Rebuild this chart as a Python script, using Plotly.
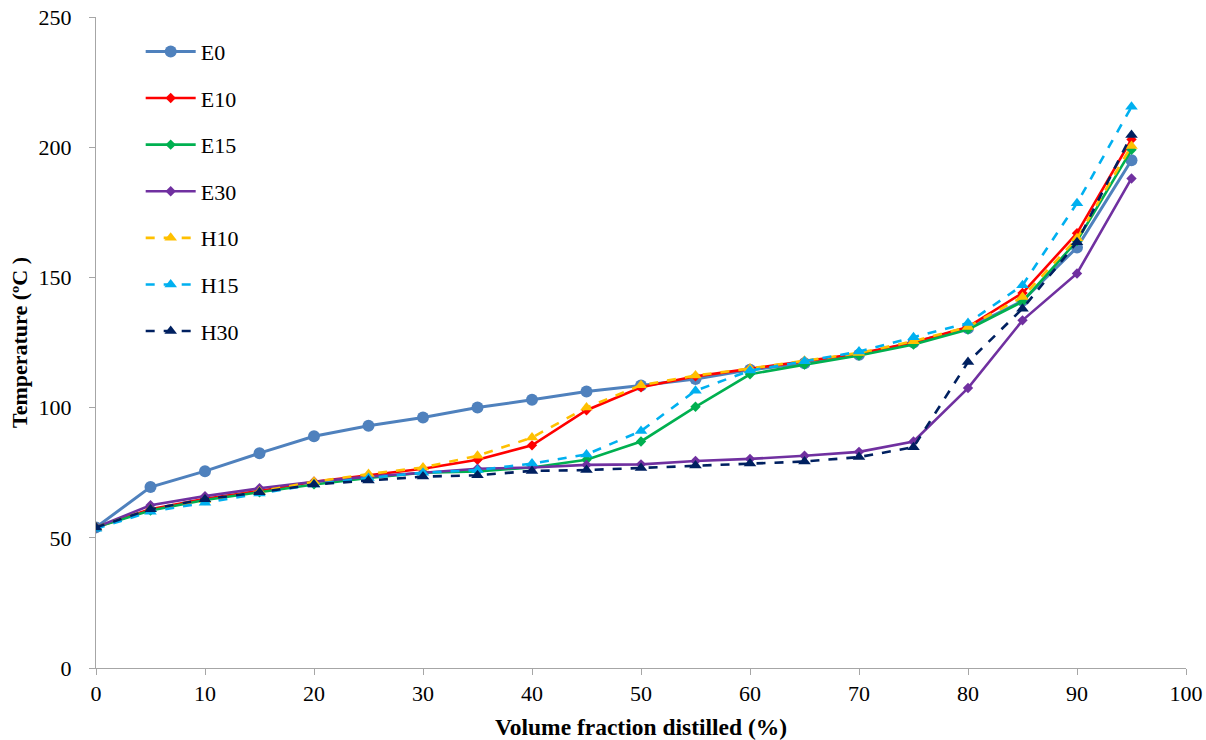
import plotly.graph_objects as go

x_vals = [0, 5, 10, 15, 20, 25, 30, 35, 40, 45, 50, 55, 60, 65, 70, 75, 80, 85, 90, 95]

E0 = [54, 69.5, 75.6, 82.5, 89, 93, 96.2, 100, 103, 106.2, 108.5, 111, 114.5, 117, 120.3, 125, 130.5, 141, 161.5, 195]
E10 = [54, 61, 65, 68, 71.5, 74, 76.5, 80, 85.5, 99, 107.8, 112, 114.8, 117.8, 120.8, 125, 131, 144, 167, 203]
E15 = [54, 60.5, 64.5, 67.5, 70.5, 73, 75, 75.5, 77, 80, 87, 100.3, 112.8, 116.5, 120, 124.2, 130, 140.7, 164, 199]
E30 = [54, 62.5, 66, 69, 71.5, 73.5, 75, 76.5, 77, 78, 78.2, 79.5, 80.3, 81.5, 83, 87, 107.5, 133.5, 151.5, 188]
H10 = [54, 61, 64.5, 67.8, 71.5, 74.5, 77, 81.5, 88.5, 100, 108.6, 112.3, 115, 118, 121, 125.5, 131, 142.5, 165, 200.5]
H15 = [53.5, 60, 63.5, 67, 70.5, 73, 75, 76, 78.5, 82, 91, 106.5, 114.2, 117.8, 121.5, 127, 132.5, 147, 178.5, 215.5]
H30 = [54, 61, 64.8, 67.5, 70.5, 72, 73.5, 74, 75.7, 76, 76.8, 77.8, 78.5, 79.3, 81, 84.8, 117.5, 138, 163.5, 204.7]

x_ticks = [0, 10, 20, 30, 40, 50, 60, 70, 80, 90, 100]
y_ticks = [0, 50, 100, 150, 200, 250]

series = [
    ("E0", E0, "#4F81BD", "circle", 12, "solid"),
    ("E10", E10, "#FF0000", "diamond", 8, "solid"),
    ("E15", E15, "#00B050", "diamond", 8, "solid"),
    ("E30", E30, "#7030A0", "diamond", 8, "solid"),
    ("H10", H10, "#FFC000", "triangle-up", 11, "dash"),
    ("H15", H15, "#00B0F0", "triangle-up", 11, "dash"),
    ("H30", H30, "#002060", "triangle-up", 11, "dash"),
]

FONT = "Liberation Serif, Times New Roman, serif"

fig = go.Figure()
for name, ys, color, sym, size, dash in series:
    fig.add_trace(go.Scatter(
        x=x_vals, y=ys, name=name, mode="lines+markers",
        legendgroup=name,
        line=dict(color=color, width=3 if name == "E0" else 2.6, dash=dash),
        marker=dict(symbol=sym, size=size, color=color),
    ))

fig.update_layout(
    width=1206, height=740,
    margin=dict(l=96, r=20, t=17, b=72, autoexpand=False),
    paper_bgcolor="white", plot_bgcolor="white",
    font=dict(family=FONT, size=22, color="black"),
    showlegend=True,
    legend=dict(
        x=0.041, y=0.979, xanchor="left", yanchor="top",
        font=dict(family=FONT, size=22, color="black"),
        bgcolor="rgba(0,0,0,0)",
        tracegroupgap=15,
        itemwidth=50,
    ),
    xaxis=dict(
        range=[0, 100], tickvals=x_ticks, showgrid=False, zeroline=False,
        showline=True, linecolor="#A6A6A6", linewidth=1,
        ticks="outside", ticklen=6, tickcolor="#A6A6A6",
        tickfont=dict(family=FONT, size=22),
        title=dict(text="<b>Volume fraction distilled (%)</b>",
                   font=dict(family=FONT, size=23.5), standoff=13),
        automargin=False,
    ),
    yaxis=dict(
        range=[0, 250], tickvals=y_ticks, showgrid=False, zeroline=False,
        showline=True, linecolor="#A6A6A6", linewidth=1,
        ticks="outside", ticklen=6, tickcolor="#A6A6A6",
        tickfont=dict(family=FONT, size=22),
        ticklabelstandoff=13,
        title=dict(text="<b>Temperature (ºC )</b>",
                   font=dict(family=FONT, size=22), standoff=4),
        automargin=False,
    ),
)

fig.write_html("out.html")
